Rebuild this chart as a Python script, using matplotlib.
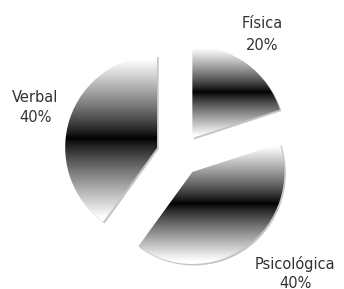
import numpy as np
import matplotlib
matplotlib.use("Agg")
import matplotlib.pyplot as plt
from matplotlib.patches import Wedge

# data
labels = ['Física', 'Psicológica', 'Verbal']
values = [20, 40, 40]
explode = [21, 21, 24]   # in pixel units (axes are in pixels)

W, H = 344, 289
fig = plt.figure(figsize=(W / 100, H / 100), dpi=100)
ax = fig.add_axes([0, 0, 1, 1])

center = (180, 134)
radius = 92

wedges, _ = ax.pie(values, explode=explode, startangle=90, counterclock=False,
                   center=center, radius=radius, frame=True,
                   wedgeprops=dict(facecolor='none', edgecolor='none'))

# vertical gradient: white at top/bottom, black in the middle
t = np.linspace(-1, 1, 256)
grad = np.clip(np.abs(t) * 1.05, 0, 1) ** 0.85
grad = grad[:, None] * np.ones((1, 4))

for w in wedges:
    # light gray shadow slightly to the lower right
    sh = Wedge((w.center[0] + 1.5, w.center[1] - 1.5), w.r, w.theta1, w.theta2,
               facecolor='#c4c4c4', edgecolor='none', zorder=1)
    ax.add_patch(sh)
    ext = w.get_path().get_extents()
    im = ax.imshow(grad, cmap='gray', vmin=0, vmax=1, origin='upper',
                   extent=(ext.x0, ext.x1, ext.y0, ext.y1), aspect='auto',
                   interpolation='bilinear', zorder=2)
    im.set_clip_path(w)

ax.set_xlim(0, W)
ax.set_ylim(0, H)
ax.set_aspect('equal')
ax.axis('off')

# labels (positions in pixels from top of the image)
txt = dict(fontsize=10.5, color='#333333', ha='center', va='center',
           family='DejaVu Sans')
pcts = ['%d%%' % v for v in values]
label_pos = [(262, 24, 45), (295, 264, 283), (35, 98, 118)]
for lab, pct, (x, y1, y2) in zip(labels, pcts, label_pos):
    ax.text(x, H - y1, lab, **txt)
    ax.text(x, H - y2, pct, **txt)

fig.savefig('out.png', dpi=100)
